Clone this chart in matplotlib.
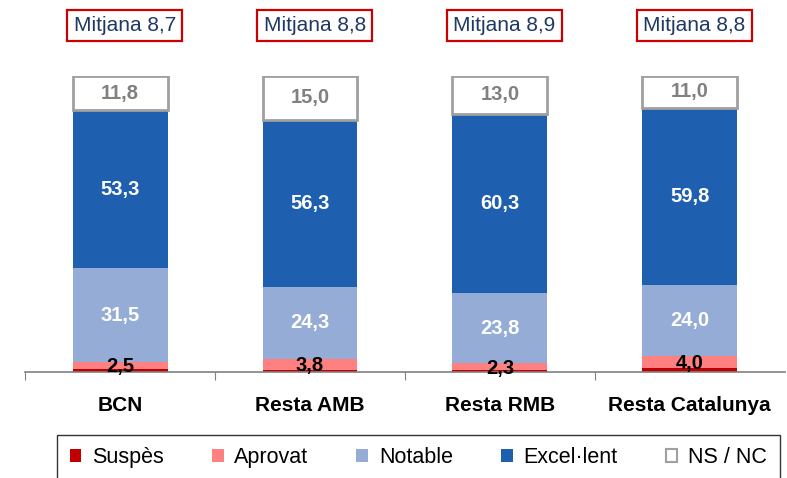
import matplotlib
matplotlib.use("Agg")
import matplotlib.pyplot as plt
from matplotlib.patches import Patch

plt.rcParams['font.family'] = ['Liberation Sans', 'DejaVu Sans']

categories = ["BCN", "Resta AMB", "Resta RMB", "Resta Catalunya"]
suspes = [0.9, 0.6, 0.6, 1.2]
aprovat = [2.5, 3.8, 2.3, 4.0]
notable = [31.5, 24.3, 23.8, 24.0]
excellent = [53.3, 56.3, 60.3, 59.8]
nsnc = [11.8, 15.0, 13.0, 11.0]
mitjana = ["8,7", "8,8", "8,9", "8,8"]
series_names = ["Suspès", "Aprovat", "Notable", "Excel·lent", "NS / NC"]

colors = ["#C00000", "#FF8080", "#95ACD6", "#1F5FAF", "#FFFFFF"]

fig = plt.figure(figsize=(7.87, 4.78), dpi=100)
ax = fig.add_axes([0.032, 0.222, 0.965, 0.62])

x = list(range(len(categories)))
w = 0.5
bottom = [0.0] * 4
series = [suspes, aprovat, notable, excellent, nsnc]
fs = 14.5
for i, (vals, c) in enumerate(zip(series, colors)):
    if i == 4:
        ax.bar(x, vals, w, bottom=bottom, color=c, edgecolor="#A0A0A0", linewidth=2, zorder=2)
    else:
        ax.bar(x, vals, w, bottom=bottom, color=c, edgecolor='none', zorder=2)
    for j in range(4):
        v = vals[j]
        lab = f"{v:.1f}".replace(".", ",")
        if i == 1:
            ax.text(x[j], bottom[j] + v / 2 - 0.5, lab, ha='center', va='center',
                    fontsize=fs, fontweight='bold', color='black', zorder=4)
        elif i in (2, 3):
            ax.text(x[j], bottom[j] + v / 2, lab, ha='center', va='center',
                    fontsize=fs, fontweight='bold', color='white', zorder=4)
        elif i == 4:
            ax.text(x[j], bottom[j] + v / 2, lab, ha='center', va='center',
                    fontsize=fs, fontweight='bold', color='#808080', zorder=4)
    bottom = [b + v for b, v in zip(bottom, vals)]

for j in range(4):
    ax.text(x[j] + 0.025, 1.169, f"Mitjana {mitjana[j]}", transform=ax.get_xaxis_transform(),
            ha='center', va='center', fontsize=15, color='#1F3864',
            bbox=dict(boxstyle='square,pad=0.3', facecolor='white', edgecolor='#CC0000', linewidth=1.6))

ax.set_xlim(-0.5, 3.5)
ax.set_ylim(0, 100)
for s in ['top', 'right', 'left']:
    ax.spines[s].set_visible(False)
ax.spines['bottom'].set_color('#808080')
ax.spines['bottom'].set_linewidth(1.2)
ax.spines['bottom'].set_zorder(3)
ax.set_yticks([])
ax.set_xticks([-0.5, 0.5, 1.5, 2.5])
ax.set_xticklabels([])
ax.tick_params(axis='x', length=6, color='#808080', direction='out')
for j in range(4):
    ax.text(x[j], -0.112, categories[j], transform=ax.get_xaxis_transform(),
            ha='center', va='center', fontsize=15, fontweight='bold')

handles = [Patch(facecolor=c, edgecolor=('#A0A0A0' if k == 4 else c), linewidth=1.5 if k == 4 else 0)
           for k, c in enumerate(colors)]
leg = fig.legend(handles, series_names, loc='lower left', bbox_to_anchor=(0.072, -0.007, 0.919, 0.1),
                 mode='expand', ncol=5, fontsize=15.5, frameon=True, fancybox=False,
                 edgecolor='black', handlelength=0.55, handleheight=0.55, handletextpad=0.5,
                 borderpad=0.6, columnspacing=1.0, borderaxespad=0)
leg.get_frame().set_linewidth(1.0)

fig.savefig("out.png", dpi=100)
